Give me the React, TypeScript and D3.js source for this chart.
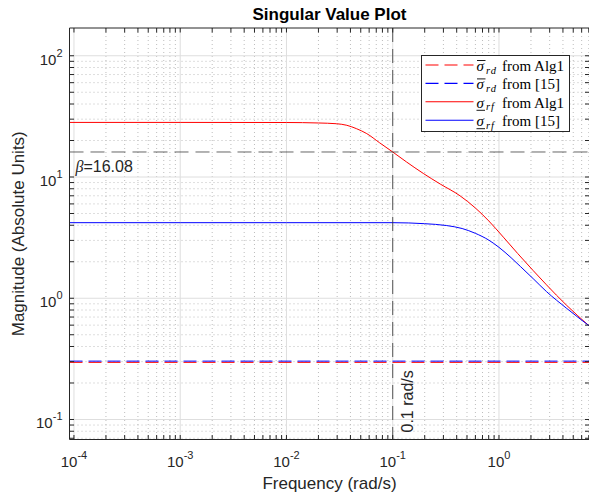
import React from "react";
import * as d3 from "d3";

// figure size and axes box (pixels)
const W = 589;
const H = 497;
const box = { left: 69.5, right: 589.5, top: 28, bottom: 439.5 };

// axis limits
const xLimits = [Math.pow(10, -4.042), Math.pow(10, 0.852)];
const yLimits = [Math.pow(10, -1.165), Math.pow(10, 2.229)];

// sigma_rf from Alg1 (red solid)
const rfAlgFreq = [9.08e-5, 0.001, 0.01, 0.02, 0.0297, 0.037, 0.0458, 0.057, 0.075, 0.1, 0.135, 0.194, 0.28, 0.43, 0.6, 0.8, 1.1, 1.5, 2.1, 2.8, 4.3, 7.1];
const rfAlgMag = [28.2, 28.2, 28.15, 27.9, 27.5, 26.7, 25.0, 22.8, 19.2, 16.08, 13.3, 10.7, 8.75, 7.0, 5.55, 4.35, 3.19, 2.34, 1.69, 1.29, 0.88, 0.589];

// sigma_rf from [15] (blue solid)
const rfRefFreq = [9.08e-5, 0.001, 0.01, 0.1, 0.2, 0.32, 0.45, 0.6, 0.8, 1.0, 1.3, 1.6, 2.1, 2.8, 4.3, 7.1];
const rfRefMag = [4.2, 4.2, 4.2, 4.2, 4.12, 3.98, 3.76, 3.43, 3.02, 2.63, 2.16, 1.82, 1.45, 1.135, 0.83, 0.59];

// sigma_rd (dashed, flat)
const rdFreq = [9.08e-5, 7.1];
const rdAlgMag = [0.296, 0.296];
const rdRefMag = [0.303, 0.303];

const betaValue = 16.08;
const crossFreq = 0.1;

const xMajorExp = [-4, -3, -2, -1, 0];
const yMajorExp = [-1, 0, 1, 2];

const legendNames = ["from Alg1", "from [15]", "from Alg1", "from [15]"];
const legendSubs = ["rd", "rd", "rf", "rf"];

const AX = "#262626";
const SANS = "Helvetica, Arial, 'Liberation Sans', sans-serif";
const SERIF = "'Liberation Serif', 'Times New Roman', serif";

export default function App() {
  const x = d3.scaleLog().domain(xLimits).range([box.left, box.right]);
  const y = d3.scaleLog().domain(yLimits).range([box.bottom, box.top]);

  const isMajor = (v: number) => Math.abs(Math.log10(v) - Math.round(Math.log10(v))) < 1e-9;
  const xAll = x.ticks();
  const yAll = y.ticks();
  const xMinor = xAll.filter((v) => !isMajor(v));
  const yMinor = yAll.filter((v) => !isMajor(v));
  const xMajor = xMajorExp.map((e) => Math.pow(10, e));
  const yMajor = yMajorExp.map((e) => Math.pow(10, e));

  const line = d3
    .line<[number, number]>()
    .x((d) => x(d[0]))
    .y((d) => y(d[1]))
    .curve(d3.curveMonotoneX);

  const zip = (f: number[], m: number[]) => f.map((v, i) => [v, m[i]] as [number, number]);

  const series = [
    { d: zip(rdFreq, rdAlgMag), color: "#ff0000", dash: "13,6" },
    { d: zip(rdFreq, rdRefMag), color: "#0000ff", dash: "13,6" },
    { d: zip(rfAlgFreq, rfAlgMag), color: "#ff0000", dash: undefined },
    { d: zip(rfRefFreq, rfRefMag), color: "#0000ff", dash: undefined },
  ];

  const tickLen = 4.5;
  const cx = (box.left + box.right) / 2;
  const cy = (box.top + box.bottom) / 2;

  // legend geometry
  const lg = { x: 421.5, y: 55.5, w: 148, h: 76 };
  const rowY = (i: number) => lg.y + 9.5 + i * 18.4;

  return (
    <svg width={W} height={H} style={{ position: "absolute", left: 0, top: 0, background: "#fff" }}>
      <defs>
        <clipPath id="plotclip">
          <rect x={box.left} y={box.top} width={box.right - box.left} height={box.bottom - box.top} />
        </clipPath>
      </defs>
      <rect x={box.left} y={box.top} width={box.right - box.left} height={box.bottom - box.top} fill="#fff" />

      {/* minor grid */}
      <g stroke="#bdbdbd" strokeWidth={1} strokeDasharray="1,3" fill="none">
        {xMinor.map((v, i) => (
          <line key={"xm" + i} x1={x(v)} x2={x(v)} y1={box.top} y2={box.bottom} />
        ))}
        {yMinor.map((v, i) => (
          <line key={"ym" + i} x1={box.left} x2={box.right} y1={y(v)} y2={y(v)} />
        ))}
      </g>
      {/* major grid */}
      <g stroke="#dedede" strokeWidth={1} fill="none">
        {xMajor.map((v, i) => (
          <line key={"xM" + i} x1={x(v)} x2={x(v)} y1={box.top} y2={box.bottom} />
        ))}
        {yMajor.map((v, i) => (
          <line key={"yM" + i} x1={box.left} x2={box.right} y1={y(v)} y2={y(v)} />
        ))}
      </g>

      {/* data */}
      <g clipPath="url(#plotclip)" fill="none">
        {series.map((s, i) => (
          <path key={i} d={line(s.d) || ""} stroke={s.color} strokeWidth={1} strokeDasharray={s.dash} />
        ))}
        {/* beta line and crossover frequency line */}
        <line x1={box.left} x2={box.right} y1={y(betaValue)} y2={y(betaValue)} stroke="rgba(38,38,38,0.7)" strokeDasharray="14,7" />
        <line x1={x(crossFreq)} x2={x(crossFreq)} y1={box.top} y2={box.bottom} stroke="rgba(38,38,38,0.75)" strokeDasharray="14,7" />
      </g>

      <text x={box.left + 6} y={y(betaValue) + 20} fontFamily={SANS} fontSize={16} fill={AX}>
        <tspan fontStyle="italic" fontFamily={SERIF}>β</tspan>=16.08
      </text>
      <text
        transform={`translate(${x(crossFreq) + 20.5},${box.bottom - 7}) rotate(-90)`}
        fontFamily={SANS}
        fontSize={16}
        fill={AX}
      >
        0.1 rad/s
      </text>

      {/* axes box */}
      <g stroke={AX} strokeWidth={1} fill="none">
        <line x1={box.left} x2={box.left} y1={box.top} y2={box.bottom} />
        <line x1={box.left} x2={box.right} y1={box.bottom} y2={box.bottom} />
        <line x1={box.left} x2={box.right} y1={box.top} y2={box.top} />
        <line x1={box.right} x2={box.right} y1={box.top} y2={box.bottom} />
        {xAll.map((v, i) => (
          <g key={"xt" + i}>
            <line x1={x(v)} x2={x(v)} y1={box.bottom} y2={box.bottom - tickLen} />
            <line x1={x(v)} x2={x(v)} y1={box.top} y2={box.top + tickLen} />
          </g>
        ))}
        {yAll.map((v, i) => (
          <g key={"yt" + i}>
            <line x1={box.left} x2={box.left + tickLen} y1={y(v)} y2={y(v)} />
            <line x1={box.right} x2={box.right - tickLen} y1={y(v)} y2={y(v)} />
          </g>
        ))}
      </g>

      {/* tick labels */}
      <g fontFamily={SANS} fill={AX}>
        {xMajorExp.map((e) => (
          <text key={"xl" + e} x={x(Math.pow(10, e))} y={box.bottom + 27.5} textAnchor="middle" fontSize={15}>
            10<tspan fontSize={11} dy={-8}>{e}</tspan>
          </text>
        ))}
        {yMajorExp.map((e) => (
          <text key={"yl" + e} x={box.left - 7} y={y(Math.pow(10, e)) + 9} textAnchor="end" fontSize={15}>
            10<tspan fontSize={11} dy={-8}>{e}</tspan>
          </text>
        ))}
      </g>

      {/* labels and title */}
      <text x={cx} y={19.5} textAnchor="middle" fontFamily={SANS} fontSize={17} fontWeight="bold" fill="#000">
        Singular Value Plot
      </text>
      <text x={cx} y={489} textAnchor="middle" fontFamily={SANS} fontSize={17} fill={AX}>
        Frequency (rad/s)
      </text>
      <text transform={`translate(24,${cy}) rotate(-90)`} textAnchor="middle" fontFamily={SANS} fontSize={17} fill={AX}>
        Magnitude (Absolute Units)
      </text>

      {/* legend */}
      <g>
        <rect x={lg.x} y={lg.y} width={lg.w} height={lg.h} fill="#fff" stroke={AX} strokeWidth={1} />
        {series.map((s, i) => {
          const ry = rowY(i);
          const tx = 476.5;
          const base = ry + 6;
          return (
            <g key={"lg" + i}>
              <line x1={425.5} x2={473.5} y1={ry} y2={ry} stroke={s.color} strokeWidth={1.1} strokeDasharray={s.dash} />
              {i < 2 ? (
                <line x1={tx + 0.5} x2={tx + 9} y1={base - 10.5} y2={base - 10.5} stroke="#000" strokeWidth={0.9} />
              ) : (
                <line x1={tx} x2={tx + 8.5} y1={base + 2.5} y2={base + 2.5} stroke="#000" strokeWidth={0.9} />
              )}
              <text y={base} fontFamily={SERIF} fontSize={15} fill="#000">
                <tspan x={tx} fontStyle="italic">σ</tspan>
                <tspan x={tx + 9.5} fontStyle="italic" fontSize={10.5} dy={2.5} letterSpacing={1}>
                  {legendSubs[i]}
                </tspan>
                <tspan x={502} dy={-2.5}>{legendNames[i]}</tspan>
              </text>
            </g>
          );
        })}
      </g>
    </svg>
  );
}
